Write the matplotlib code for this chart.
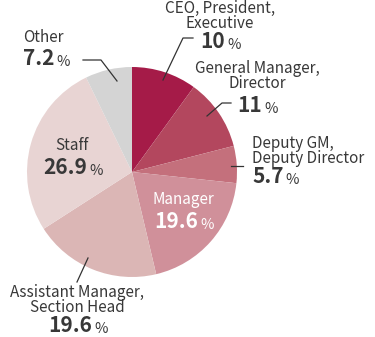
import matplotlib.pyplot as plt

# data
labels = ["CEO, President,\nExecutive", "General Manager,\nDirector",
          "Deputy GM,\nDeputy Director", "Manager",
          "Assistant Manager,\nSection Head", "Staff", "Other"]
values = [10, 11, 5.7, 19.6, 19.6, 26.9, 7.2]
value_text = ["10", "11", "5.7", "19.6", "19.6", "26.9", "7.2"]
colors = ["#a51b48", "#b3475e", "#c4707c", "#d0909a", "#dbb6b5", "#e8d4d3", "#d4d4d4"]

W, H = 375, 337
plt.rcParams['font.family'] = ['Noto Sans CJK JP', 'DejaVu Sans']

fig = plt.figure(figsize=(3.75, 3.37), dpi=100)
ax = fig.add_axes([0, 0, 1, 1])

ax.pie(values, colors=colors, startangle=90, counterclock=False,
       center=(132, H - 172), radius=105, frame=True,
       wedgeprops=dict(linewidth=0))
ax.set_xlim(0, W)
ax.set_ylim(0, H)
ax.set_aspect("equal")
ax.axis("off")

txt = "#383838"


def label(i, x, y, ha="center", color=txt, name_y=None, shift=7):
    # name lines above, value below; y in pixel coords from top
    ax.text(x, H - name_y, labels[i], ha=ha, va="center", fontsize=11,
            color=color, linespacing=0.85)
    vx = x - shift if ha == "center" else x
    t = ax.text(vx, H - y, value_text[i], ha=ha, va="baseline",
                fontsize=15, fontweight="bold", color=color)
    ax.annotate("%", xy=(1, 0), xycoords=t, xytext=(1.5, 0),
                textcoords="offset points", va="bottom", ha="left",
                fontsize=10.5, color=color)


def leader(pts):
    xs = [p[0] for p in pts]
    ys = [H - p[1] for p in pts]
    ax.plot(xs, ys, color="#333333", lw=0.9)


label(0, 220, 48, name_y=16)
leader([(163, 80), (183, 38), (193, 38)])

label(1, 257, 112, name_y=76)
leader([(207, 116), (222, 103), (231, 103)])

label(2, 252, 183, ha="left", name_y=151)
leader([(231, 166), (243, 166)])

label(3, 183, 228, color="white", name_y=200)

label(4, 77, 332, name_y=300)
leader([(88, 258), (77, 282)])

label(5, 72, 174, name_y=146)

label(6, 23, 65, ha="left", name_y=38)
leader([(83, 60), (101, 60), (117, 81)])

fig.savefig("out.png", dpi=100)
